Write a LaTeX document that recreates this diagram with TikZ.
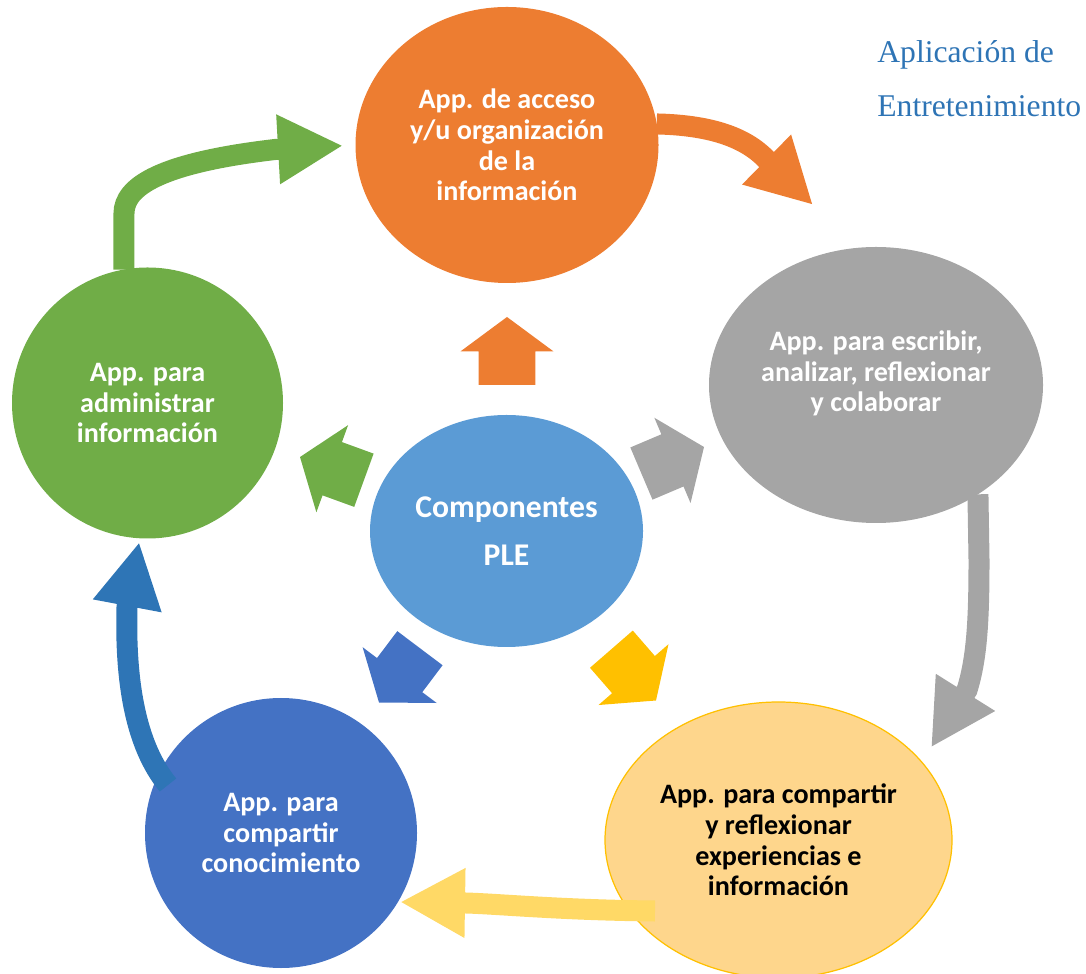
\documentclass[tikz,border=0pt]{standalone}
\usepackage{fontspec}
\newfontfamily\calibfont{Carlito}
\newfontfamily\timesfont{Liberation Serif}
\usetikzlibrary{shapes.geometric, shapes.arrows, arrows.meta}

\definecolor{plecenter}{HTML}{5B9BD5}
\definecolor{pleorange}{HTML}{ED7D31}
\definecolor{plegray}{HTML}{A5A5A5}
\definecolor{plegold}{HTML}{FFC000}
\definecolor{plecream}{HTML}{FED68C}
\definecolor{pleyellow}{HTML}{FFD966}
\definecolor{pleblue}{HTML}{4472C4}
\definecolor{pledarkblue}{HTML}{2E75B6}
\definecolor{plegreen}{HTML}{70AD47}
\definecolor{notecolor}{HTML}{2E74B5}

\begin{document}
\begin{tikzpicture}[
	app/.style = {ellipse, inner sep = 0, outer sep = 0, align = center, text = white,
		font = \calibfont\bfseries\fontsize{16}{17.5}\selectfont},
	blockarrow/.style = {single arrow, inner xsep = 0, inner ysep = 0.56cm, outer sep = 0, anchor = tip,
		minimum height = 1.36cm, minimum width = 1.84cm,
		single arrow head extend = 0.36cm, single arrow tip angle = 107},
	cyclearrow/.style = {line width = 0.42cm, -{Triangle[width = 1.3cm, length = 1.3cm]}},
	sidenote/.style = {anchor = base west, inner sep = 0, text = notecolor,
		font = \timesfont\fontsize{18}{20}\selectfont}
]
	\useasboundingbox (0, 0) rectangle (21.72, 19.46);

	\node[app, fill = plecenter, minimum width = 5.46cm, minimum height = 4.64cm,
		font = \calibfont\bfseries\fontsize{18}{27}\selectfont] (ple) at (10.13, 8.84) {Componentes\\PLE};
	\node[app, fill = pleorange, minimum width = 6.06cm, minimum height = 5.52cm] (acceso) at (10.14, 16.56)
		{App. de acceso\\y/u organización\\de la\\información};
	\node[app, fill = plegray, minimum width = 6.68cm, minimum height = 5.52cm] (escribir) at (17.52, 11.76)
		{App. para escribir,\\analizar, reflexionar\\y colaborar\\[-2pt]\mbox{}};
	\node[app, fill = plecream, draw = plegold, line width = 0.7pt, text = black,
		minimum width = 6.94cm, minimum height = 5.52cm] (experiencias) at (15.57, 2.66)
		{App. para compartir\\y reflexionar\\experiencias e\\información};
	\node[app, fill = pleblue, minimum width = 5.44cm, minimum height = 5.4cm] (conocimiento) at (5.62, 2.8)
		{App. para\\compartir\\conocimiento};
	\node[app, fill = plegreen, minimum width = 5.42cm, minimum height = 5.42cm] (admin) at (2.95, 11.4)
		{App. para\\administrar\\información};

	\node[blockarrow, fill = pleorange, rotate = 90] (outacceso) at (10.14, 13.12) {};
	\node[blockarrow, fill = plegray, rotate = 23] (outescribir) at (14.08, 10.52) {};
	\node[blockarrow, fill = plegold, rotate = -49] (outexperiencias) at (13.12, 5.45) {};
	\node[blockarrow, fill = pleblue, rotate = -127] (outconocimiento) at (7.58, 5.41) {};
	\node[blockarrow, fill = plegreen, rotate = 160] (outadmin) at (6.0, 10.32) {};

	\coordinate (toescribir) at (16.26, 15.36);
	\coordinate (toexperiencias) at (18.62, 4.51);
	\coordinate (toconocimiento) at (8.0, 1.42);
	\coordinate (toadmin) at (2.785, 8.62);

	\draw[cyclearrow, plegreen, shorten >= 0.25cm] (admin.100) -- ++(0, 1.12)
		.. controls +(0, 0.54) and (3.2, 16.2) .. (5.5, 16.47) -- (acceso.west);
	\draw[cyclearrow, pleorange] (acceso.8) .. controls (14.0, 16.96) and (14.8, 16.8) .. (15.3, 16.3) -- (toescribir);
	\draw[cyclearrow, plegray] (escribir.-47) -- (19.58, 8.26)
		.. controls (19.58, 7.06) and (19.54, 6.3) .. (19.34, 5.66) -- (toexperiencias);
	\draw[cyclearrow, pleyellow] ([shift = {(-2.47, -1.42)}]experiencias.center)
		.. controls (11.2, 1.26) and (10.0, 1.38) .. (9.32, 1.4) -- (toconocimiento);
	\draw[cyclearrow, pledarkblue] ([shift = {(-2.26, 0.96)}]conocimiento.center)
		.. controls (2.7, 4.56) and (2.5, 5.86) .. (2.54, 7.32) -- (toadmin);

	\node[sidenote] (aplic) at (17.54, 18.2) {Aplicación de};
	\node[sidenote] (entret) at (17.54, 17.12) {Entretenimiento};
\end{tikzpicture}
\end{document}
